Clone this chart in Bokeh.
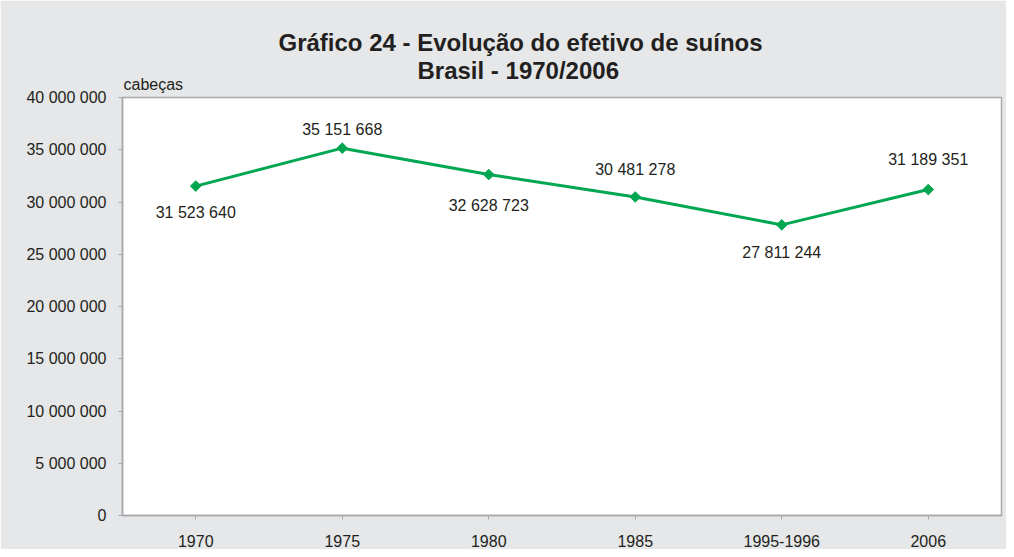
import math
from bokeh.plotting import figure
from bokeh.models import ColumnDataSource, FixedTicker, Title
from bokeh.core.properties import value
from bokeh.embed import file_html
from bokeh.resources import INLINE

# ---- data ----
years = ["1970", "1975", "1980", "1985", "1995-1996", "2006"]
efetivo = [31523640, 35151668, 32628723, 30481278, 27811244, 31189351]
y_ticks = [0, 5000000, 10000000, 15000000, 20000000, 25000000, 30000000, 35000000, 40000000]
title_lines = ["Gráfico 24 - Evolução do efetivo de suínos", "Brasil - 1970/2006"]
unit_label = "cabeças"

# ---- layout / style ----
label_offsets = [26, -19, 31, -27, 28, -30]  # px, + = below the point
FONT = "Liberation Sans"
TEXT = "#231f20"
GREEN = "#00a651"
GRAY_BG = "#e6e7e8"
AXIS = "#a7a9ac"

def fmt(v):
    return f"{v:,}".replace(",", " ")

src = ColumnDataSource(dict(
    x=years, y=efetivo,
    lbl=[fmt(v) for v in efetivo],
    dy=label_offsets,
))

p = figure(width=1006, height=549, x_range=years, y_range=(0, 40000000),
           output_backend="svg", toolbar_location=None,
           min_border_left=122, min_border_top=97, min_border_right=5, min_border_bottom=31)
p.x_range.range_padding = 0
p.border_fill_color = GRAY_BG
p.background_fill_color = "white"
p.outline_line_color = AXIS
p.outline_line_width = 1.5
p.xgrid.visible = False
p.ygrid.visible = False

p.yaxis.ticker = FixedTicker(ticks=y_ticks)
p.yaxis.major_label_overrides = {v: fmt(v) for v in y_ticks}
p.yaxis.minor_tick_line_color = None
for ax in (p.xaxis[0], p.yaxis[0]):
    ax.axis_line_color = AXIS
    ax.axis_line_width = 1.5
    ax.major_tick_line_color = AXIS
    ax.major_tick_line_width = 1
    ax.major_tick_in = 0
    ax.major_tick_out = 4
    ax.major_label_text_font = FONT
    ax.major_label_text_font_size = "16px"
    ax.major_label_text_color = TEXT
p.yaxis.major_label_standoff = 12
p.xaxis.major_label_standoff = 15

p.line("x", "y", source=src, line_color=GREEN, line_width=3)
p.scatter("x", "y", source=src, marker="square", size=7.5, angle=math.pi / 4,
          fill_color=GREEN, line_color=GREEN)
p.text("x", "y", text="lbl", source=src, y_offset="dy", text_align="center",
       text_baseline="middle", text_font=value(FONT), text_font_size="16px", text_color=TEXT)

# unit label (nearest the frame), then the two title lines above it
p.add_layout(Title(text=unit_label, align="left", offset=1, standoff=9,
                   text_font=FONT, text_font_size="16px", text_font_style="normal",
                   text_color=TEXT), "above")
p.add_layout(Title(text=title_lines[1], align="left", offset=295, standoff=-28,
                   text_font=FONT, text_font_size="24px", text_font_style="bold",
                   text_color=TEXT), "above")
p.add_layout(Title(text=title_lines[0], align="left", offset=156, standoff=26,
                   text_font=FONT, text_font_size="24px", text_font_style="bold",
                   text_color=TEXT), "above")

open("out.html", "w").write(file_html(p, INLINE))
